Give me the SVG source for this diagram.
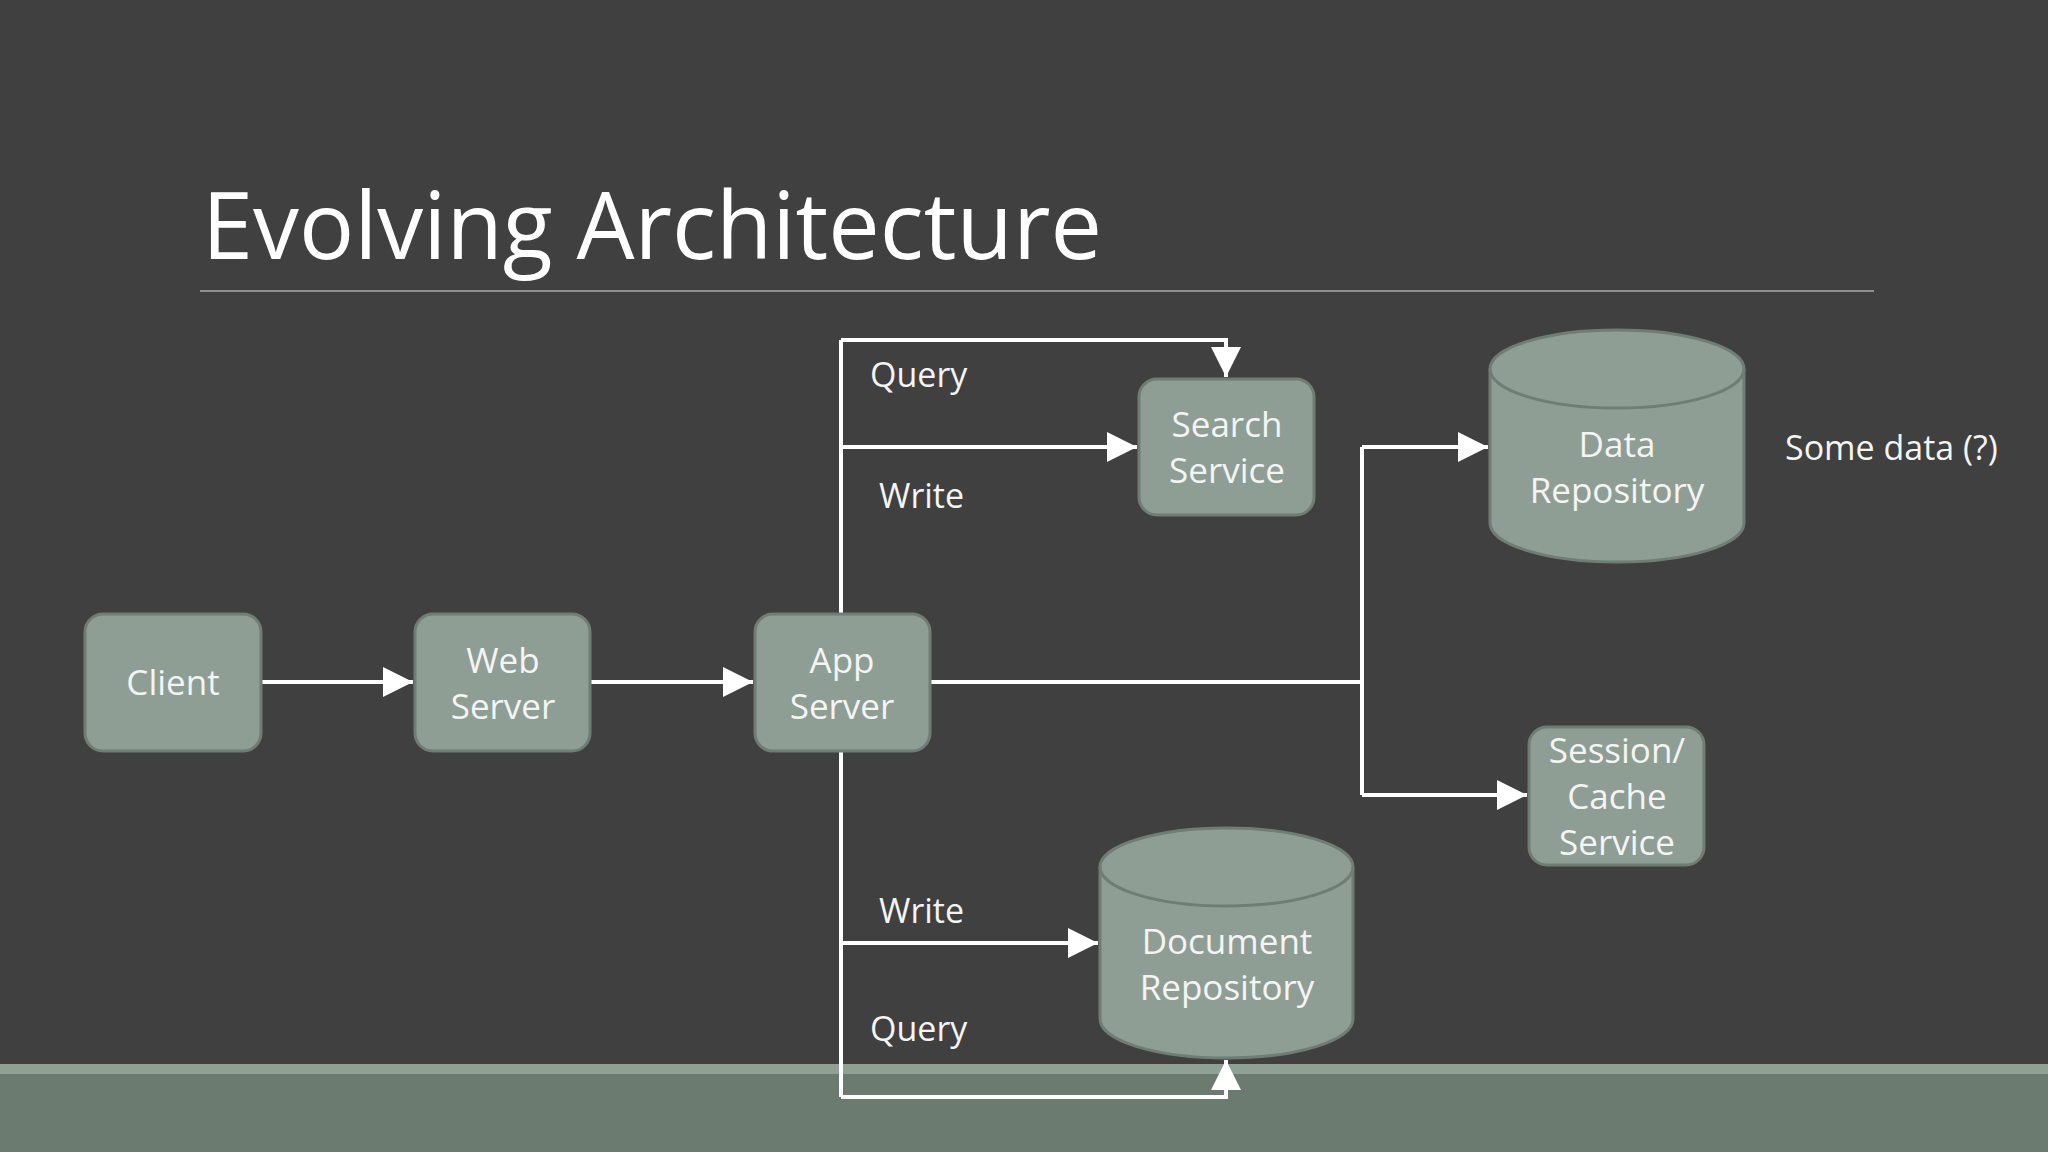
<svg xmlns="http://www.w3.org/2000/svg" width="2048" height="1152" viewBox="0 0 2048 1152">
<defs>
<style>
.n{fill:#8f9e94;stroke:#6f7d74;stroke-width:3}
.t{font-family:"Open Sans","Noto Sans",sans-serif;font-size:35px;fill:#f4f4f4;text-anchor:middle}
.l{font-family:"Open Sans","Noto Sans",sans-serif;font-size:34px;fill:#f4f4f4}
.c{fill:none;stroke:#fff;stroke-width:4}
</style>
<marker id="a" viewBox="0 0 10 10" refX="10" refY="5" markerWidth="7.5" markerHeight="7.5" orient="auto" markerUnits="strokeWidth"><path d="M0,0L10,5L0,10z" fill="#fff"/></marker>
</defs>
<rect width="2048" height="1152" fill="#404040"/>
<rect y="1064" width="2048" height="10" fill="#8fa095"/>
<rect y="1074" width="2048" height="78" fill="#6b7b70"/>
<text x="202" y="259" font-family="Open Sans,Noto Sans,sans-serif" font-size="93" fill="#fff" textLength="900" lengthAdjust="spacingAndGlyphs">Evolving Architecture</text>
<line x1="200" y1="291" x2="1874" y2="291" stroke="#aaa" stroke-width="1.5"/>
<g id="connectors">
<line class="c" x1="261" y1="682" x2="413" y2="682" marker-end="url(#a)"/>
<line class="c" x1="590" y1="682" x2="753" y2="682" marker-end="url(#a)"/>
<line class="c" x1="841" y1="614" x2="841" y2="340"/>
<polyline class="c" points="841,340 1226,340 1226,377" marker-end="url(#a)"/>
<line class="c" x1="841" y1="447" x2="1137" y2="447" marker-end="url(#a)"/>
<line class="c" x1="841" y1="751" x2="841" y2="1097"/>
<line class="c" x1="841" y1="943" x2="1098" y2="943" marker-end="url(#a)"/>
<polyline class="c" points="841,1097 1226,1097 1226,1060" marker-end="url(#a)"/>
<line class="c" x1="930" y1="682" x2="1362" y2="682"/>
<line class="c" x1="1362" y1="447" x2="1362" y2="795"/>
<line class="c" x1="1362" y1="447" x2="1488" y2="447" marker-end="url(#a)"/>
<line class="c" x1="1362" y1="795" x2="1527" y2="795" marker-end="url(#a)"/>
<text class="l" x="870" y="387">Query</text>
<text class="l" x="879" y="508">Write</text>
<text class="l" x="879" y="923">Write</text>
<text class="l" x="870" y="1041">Query</text>
</g>
<g id="client"><rect class="n" x="85" y="614" width="176" height="137" rx="18"/><text class="t" x="173" y="695">Client</text></g>
<g id="web"><rect class="n" x="415" y="614" width="175" height="137" rx="18"/><text class="t" x="503" y="673">Web</text><text class="t" x="503" y="719">Server</text></g>
<g id="app"><rect class="n" x="755" y="614" width="175" height="137" rx="18"/><text class="t" x="842" y="673">App</text><text class="t" x="842" y="719">Server</text></g>
<g id="search"><rect class="n" x="1139" y="379" width="175" height="136" rx="18"/><text class="t" x="1227" y="437">Search</text><text class="t" x="1227" y="483">Service</text></g>
<g id="session"><rect class="n" x="1529" y="727" width="175" height="138" rx="18"/><text class="t" x="1617" y="763">Session/</text><text class="t" x="1617" y="809">Cache</text><text class="t" x="1617" y="855">Service</text></g>
<g id="datarepo"><path class="n" d="M1490,369 A127,39 0 0 1 1744,369 L1744,523 A127,39 0 0 1 1490,523 Z"/><path d="M1490,369 A127,39 0 0 0 1744,369" fill="none" stroke="#6f7d74" stroke-width="3"/><text class="t" x="1617" y="457">Data</text><text class="t" x="1617" y="503">Repository</text></g>
<g id="docrepo"><path class="n" d="M1100,867 A126.5,39 0 0 1 1353,867 L1353,1019 A126.5,39 0 0 1 1100,1019 Z"/><path d="M1100,867 A126.5,39 0 0 0 1353,867" fill="none" stroke="#6f7d74" stroke-width="3"/><text class="t" x="1227" y="954">Document</text><text class="t" x="1227" y="1000">Repository</text></g>
<text class="l" x="1785" y="460">Some data (?)</text>
</svg>
